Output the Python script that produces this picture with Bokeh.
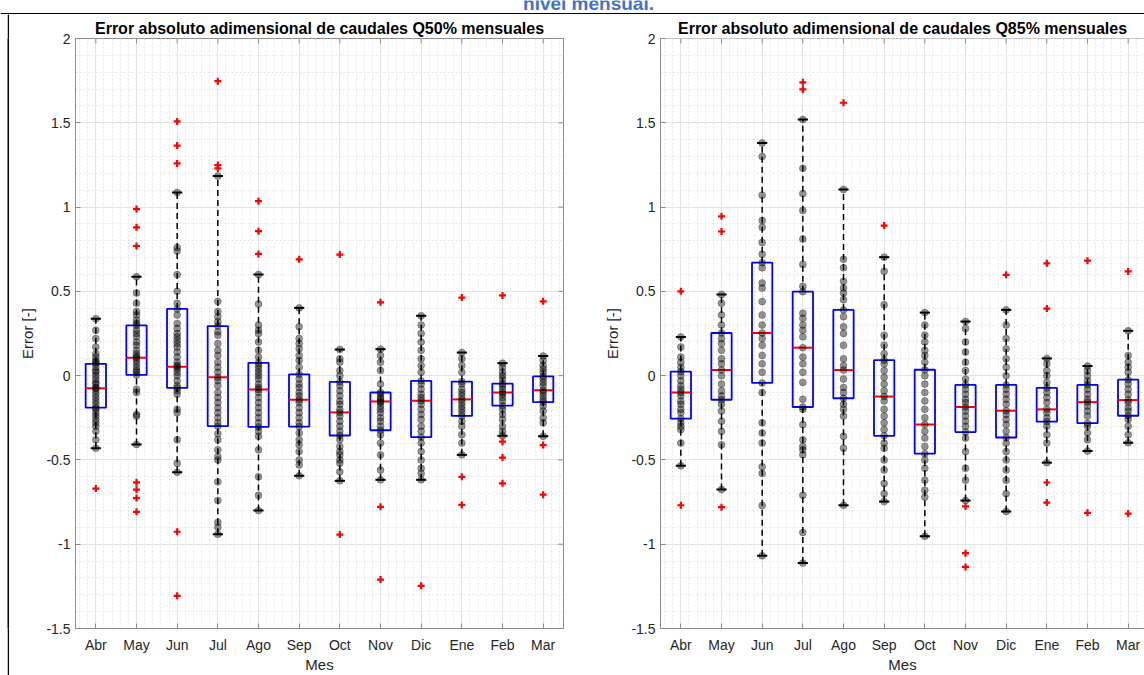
import numpy as np
from bokeh.plotting import figure
from bokeh.models import ColumnDataSource, FixedTicker, Range1d, Label, Span
from bokeh.transform import dodge
from bokeh.layouts import column, row
from bokeh.embed import file_html
from bokeh.resources import INLINE

months = ["Abr", "May", "Jun", "Jul", "Ago", "Sep", "Oct", "Nov", "Dic", "Ene", "Feb", "Mar"]

# ---------------- Q50 ----------------
q50_lo  = [-0.43, -0.408, -0.573, -0.941, -0.80, -0.594, -0.624, -0.618, -0.618, -0.47, -0.357, -0.359]
q50_q1  = [-0.19, 0.004, -0.073, -0.30, -0.304, -0.302, -0.355, -0.324, -0.365, -0.239, -0.178, -0.157]
q50_med = [-0.075, 0.106, 0.053, -0.01, -0.082, -0.143, -0.218, -0.153, -0.149, -0.141, -0.10, -0.086]
q50_q3  = [0.07, 0.298, 0.396, 0.294, 0.076, 0.008, -0.037, -0.10, -0.031, -0.035, -0.047, -0.004]
q50_hi  = [0.337, 0.586, 1.086, 1.184, 0.60, 0.402, 0.155, 0.157, 0.355, 0.137, 0.074, 0.116]
q50_out = [
    [-0.67],
    [0.988, 0.88, 0.769, -0.633, -0.676, -0.726, -0.808],
    [1.508, 1.365, 1.259, -0.926, -1.306],
    [1.747, 1.249, 1.229],
    [1.035, 0.857, 0.722],
    [0.69],
    [0.718, -0.943],
    [0.435, -0.778, -1.21],
    [-1.247],
    [0.463, -0.60, -0.767],
    [0.476, -0.392, -0.486, -0.639],
    [0.441, -0.412, -0.706],
]
q50_pts = [
    [0.337, 0.27, 0.22, 0.17, 0.13, 0.11, 0.09, 0.08, 0.07, 0.05, 0.03, 0.02, 0.0, -0.02, -0.04, -0.05,
     -0.07, -0.075, -0.09, -0.11, -0.13, -0.15, -0.17, -0.19, -0.2, -0.22, -0.24, -0.26, -0.28, -0.3,
     -0.33, -0.38, -0.43],
    [0.586, 0.49, 0.43, 0.38, 0.36, 0.33, 0.31, 0.298, 0.27, 0.25, 0.23, 0.2, 0.18, 0.15, 0.13, 0.115,
     0.106, 0.09, 0.07, 0.05, 0.03, 0.02, 0.004, -0.08, -0.1, -0.23, -0.24, -0.408],
    [1.086, 0.76, 0.74, 0.6, 0.5, 0.43, 0.396, 0.36, 0.31, 0.28, 0.25, 0.23, 0.21, 0.19, 0.17, 0.14,
     0.11, 0.08, 0.06, 0.053, 0.04, 0.02, 0.0, -0.03, -0.06, -0.073, -0.09, -0.11, -0.2, -0.22, -0.38,
     -0.52, -0.573],
    [1.184, 0.44, 0.38, 0.35, 0.32, 0.294, 0.26, 0.24, 0.19, 0.15, 0.12, 0.08, 0.05, 0.02, -0.01, -0.03,
     -0.06, -0.1, -0.13, -0.16, -0.19, -0.22, -0.25, -0.28, -0.3, -0.345, -0.38, -0.44, -0.48, -0.5,
     -0.63, -0.74, -0.87, -0.9, -0.941],
    [0.6, 0.425, 0.3, 0.27, 0.25, 0.2, 0.15, 0.11, 0.076, 0.06, 0.04, 0.02, 0.0, -0.02, -0.05, -0.07,
     -0.082, -0.1, -0.13, -0.16, -0.19, -0.22, -0.25, -0.28, -0.304, -0.33, -0.36, -0.44, -0.6, -0.71,
     -0.8],
    [0.402, 0.29, 0.22, 0.19, 0.16, 0.12, 0.09, 0.05, 0.008, -0.02, -0.05, -0.07, -0.1, -0.12, -0.143,
     -0.16, -0.19, -0.22, -0.25, -0.28, -0.302, -0.34, -0.38, -0.41, -0.45, -0.5, -0.53, -0.594],
    [0.155, 0.1, 0.08, 0.03, 0.0, -0.037, -0.06, -0.09, -0.12, -0.15, -0.17, -0.2, -0.218, -0.24, -0.27,
     -0.3, -0.33, -0.355, -0.38, -0.42, -0.45, -0.47, -0.5, -0.52, -0.57, -0.624],
    [0.157, 0.12, 0.08, 0.03, -0.05, -0.1, -0.11, -0.13, -0.14, -0.153, -0.16, -0.18, -0.2, -0.22, -0.25,
     -0.27, -0.3, -0.324, -0.35, -0.4, -0.47, -0.56, -0.618],
    [0.355, 0.3, 0.25, 0.2, 0.15, 0.1, 0.06, 0.02, -0.031, -0.05, -0.08, -0.11, -0.13, -0.149, -0.17,
     -0.2, -0.23, -0.26, -0.3, -0.33, -0.365, -0.4, -0.45, -0.5, -0.55, -0.58, -0.618],
    [0.137, 0.1, 0.06, 0.02, -0.035, -0.05, -0.08, -0.1, -0.12, -0.141, -0.16, -0.18, -0.2, -0.22,
     -0.239, -0.27, -0.3, -0.35, -0.4, -0.47],
    [0.074, 0.05, 0.02, 0.0, -0.02, -0.047, -0.06, -0.08, -0.1, -0.11, -0.13, -0.15, -0.178, -0.2,
     -0.23, -0.26, -0.3, -0.33, -0.357],
    [0.116, 0.09, 0.06, 0.04, 0.02, -0.004, -0.02, -0.04, -0.06, -0.086, -0.1, -0.12, -0.14, -0.157,
     -0.18, -0.21, -0.25, -0.28, -0.359],
]

# ---------------- Q85 ----------------
q85_lo  = [-0.535, -0.676, -1.069, -1.112, -0.769, -0.747, -0.953, -0.741, -0.806, -0.516, -0.447, -0.398]
q85_q1  = [-0.255, -0.143, -0.043, -0.186, -0.134, -0.357, -0.463, -0.335, -0.367, -0.273, -0.282, -0.238]
q85_med = [-0.10, 0.033, 0.253, 0.166, 0.033, -0.124, -0.29, -0.186, -0.208, -0.20, -0.157, -0.145]
q85_q3  = [0.024, 0.253, 0.67, 0.498, 0.39, 0.092, 0.035, -0.055, -0.055, -0.073, -0.055, -0.024]
q85_hi  = [0.229, 0.482, 1.38, 1.519, 1.104, 0.703, 0.374, 0.321, 0.39, 0.102, 0.057, 0.266]
q85_out = [
    [0.50, -0.769],
    [0.945, 0.855, -0.78],
    [],
    [1.74, 1.698],
    [1.619],
    [0.89],
    [],
    [-0.776, -1.053, -1.135],
    [0.598],
    [0.666, 0.398, -0.634, -0.753],
    [0.682, -0.814],
    [0.618, -0.818],
]
q85_pts = [
    [0.229, 0.17, 0.11, 0.08, 0.05, 0.024, 0.0, -0.03, -0.06, -0.08, -0.1, -0.12, -0.15, -0.17, -0.2,
     -0.22, -0.255, -0.28, -0.3, -0.32, -0.4, -0.535],
    [0.482, 0.43, 0.36, 0.3, 0.253, 0.22, 0.19, 0.15, 0.1, 0.07, 0.033, 0.0, -0.05, -0.09, -0.12,
     -0.143, -0.17, -0.21, -0.27, -0.33, -0.41, -0.676],
    [1.38, 1.3, 1.07, 0.92, 0.88, 0.79, 0.72, 0.67, 0.64, 0.55, 0.52, 0.44, 0.36, 0.3, 0.253, 0.22,
     0.18, 0.12, 0.07, 0.02, -0.043, -0.1, -0.28, -0.34, -0.4, -0.54, -0.58, -0.77, -1.069],
    [1.519, 1.23, 1.08, 0.98, 0.81, 0.66, 0.53, 0.498, 0.37, 0.34, 0.3, 0.27, 0.23, 0.166, 0.11, 0.07,
     0.02, -0.04, -0.14, -0.186, -0.2, -0.29, -0.38, -0.42, -0.44, -0.47, -0.71, -0.93, -1.112],
    [1.104, 0.69, 0.64, 0.56, 0.52, 0.49, 0.45, 0.39, 0.35, 0.29, 0.25, 0.18, 0.1, 0.06, 0.033, -0.02,
     -0.07, -0.1, -0.134, -0.17, -0.2, -0.24, -0.36, -0.43, -0.769],
    [0.703, 0.62, 0.42, 0.24, 0.18, 0.13, 0.092, 0.07, 0.03, -0.01, -0.05, -0.09, -0.124, -0.15, -0.2,
     -0.24, -0.28, -0.32, -0.357, -0.4, -0.43, -0.5, -0.56, -0.64, -0.7, -0.747],
    [0.374, 0.3, 0.24, 0.2, 0.15, 0.12, 0.08, 0.035, 0.0, -0.05, -0.1, -0.15, -0.2, -0.25, -0.29, -0.33,
     -0.37, -0.42, -0.463, -0.5, -0.55, -0.62, -0.68, -0.72, -0.953],
    [0.321, 0.28, 0.2, 0.14, 0.08, 0.03, -0.02, -0.055, -0.08, -0.11, -0.14, -0.16, -0.186, -0.21,
     -0.24, -0.27, -0.3, -0.335, -0.37, -0.45, -0.55, -0.62, -0.741],
    [0.39, 0.3, 0.22, 0.16, 0.1, 0.05, 0.0, -0.055, -0.08, -0.11, -0.14, -0.17, -0.208, -0.23, -0.26,
     -0.29, -0.33, -0.367, -0.4, -0.45, -0.5, -0.56, -0.62, -0.7, -0.806],
    [0.102, 0.07, 0.03, 0.0, -0.04, -0.073, -0.1, -0.13, -0.16, -0.2, -0.22, -0.25, -0.273, -0.3, -0.35,
     -0.4, -0.516],
    [0.057, 0.03, 0.0, -0.03, -0.055, -0.08, -0.11, -0.14, -0.157, -0.18, -0.21, -0.24, -0.282, -0.3,
     -0.34, -0.38, -0.447],
    [0.266, 0.12, 0.08, 0.05, 0.02, -0.024, -0.05, -0.08, -0.11, -0.145, -0.16, -0.19, -0.21, -0.238,
     -0.26, -0.3, -0.35, -0.398],
]

title_q50 = "Error absoluto adimensional de caudales Q50% mensuales"
title_q85 = "Error absoluto adimensional de caudales Q85% mensuales"
doc_heading = "nivel mensual."

FONT = "Liberation Sans"
AXC = "#8c8c8c"
TXT = "#262626"
PX_PER_UNIT = 488 / 12.0


def make_panel(title, lo, q1, med, q3, hi, outs, pts, width, min_left, min_right, frame_w, full_box):
    x_end = 0.5 + frame_w / PX_PER_UNIT
    p = figure(width=width, height=661, x_range=Range1d(0.5, x_end), y_range=Range1d(-1.5, 2),
               min_border_left=min_left, min_border_right=min_right, min_border_top=24,
               min_border_bottom=42, toolbar_location=None, output_backend="svg",
               background_fill_color="white", border_fill_color="white")
    p.title.text = title
    p.title.text_font = FONT
    p.title.text_font_size = "16px"
    p.title.text_font_style = "bold"
    p.title.text_color = "#000000"
    p.title.align = "center"
    p.title.standoff = 4

    xs = list(range(1, len(months) + 1))
    minor_x = [v for v in np.round(np.arange(0.6, 12.5, 0.2), 2) if abs(v - round(v)) > 1e-6]
    minor_y = [v for v in np.round(np.arange(-1.5, 2.0001, 0.1), 2) if abs(v * 2 - round(v * 2)) > 1e-6]
    p.xaxis.ticker = FixedTicker(ticks=xs, minor_ticks=minor_x)
    p.yaxis.ticker = FixedTicker(ticks=[-1.5, -1, -0.5, 0, 0.5, 1, 1.5, 2], minor_ticks=minor_y)
    p.xaxis.major_label_overrides = {x: m for x, m in zip(xs, months)}
    p.yaxis.major_label_overrides = {-1.5: "-1.5", -1: "-1", -0.5: "-0.5", 0: "0", 0.5: "0.5",
                                     1: "1", 1.5: "1.5", 2: "2"}
    for ax in (p.xaxis, p.yaxis):
        ax.axis_line_color = AXC
        ax.major_tick_line_color = AXC
        ax.major_tick_in = 5
        ax.major_tick_out = 0
        ax.minor_tick_in = 0
        ax.minor_tick_out = 0
        ax.major_label_text_font = FONT
        ax.major_label_text_font_size = "14px"
        ax.major_label_text_color = TXT
        ax.axis_label_text_font = FONT
        ax.axis_label_text_font_size = "15px"
        ax.axis_label_text_font_style = "normal"
        ax.axis_label_text_color = TXT
    p.xaxis.axis_label = "Mes"
    p.xaxis.major_label_standoff = 8
    p.xaxis.axis_label_standoff = 0
    p.yaxis.axis_label = "Error [-]"
    p.yaxis.major_label_standoff = 5
    p.yaxis.axis_label_standoff = 7

    for g in (p.xgrid, p.ygrid):
        g.grid_line_color = "#e3e3e3"
        g.grid_line_width = 1
        g.minor_grid_line_color = "#e6e6e6"
        g.minor_grid_line_dash = "2 2"
        g.minor_grid_line_width = 1

    if full_box:
        p.outline_line_color = AXC
        p.outline_line_width = 1
    else:
        p.outline_line_color = None
        p.add_layout(Span(location=2, dimension="width", line_color=AXC, line_width=1))

    src = ColumnDataSource(dict(x=xs, lo=lo, q1=q1, med=med, q3=q3, hi=hi))

    # whiskers
    p.segment(x0="x", y0="q3", x1="x", y1="hi", source=src, line_color="black",
              line_width=1.5, line_dash="6 4")
    p.segment(x0="x", y0="lo", x1="x", y1="q1", source=src, line_color="black",
              line_width=1.5, line_dash="6 4")
    # caps
    p.segment(x0=dodge("x", -0.125), y0="hi", x1=dodge("x", 0.125), y1="hi", source=src,
              line_color="black", line_width=2)
    p.segment(x0=dodge("x", -0.125), y0="lo", x1=dodge("x", 0.125), y1="lo", source=src,
              line_color="black", line_width=2)
    # boxes
    p.vbar(x="x", width=0.5, bottom="q1", top="q3", source=src, fill_color=None,
           line_color="#0000ff", line_width=1.8)
    # medians
    p.segment(x0=dodge("x", -0.25), y0="med", x1=dodge("x", 0.25), y1="med", source=src,
              line_color="#ff0000", line_width=2)

    # all samples
    px, py = [], []
    for x, vals in zip(xs, pts):
        px += [x] * len(vals)
        py += vals
    p.scatter(x=px, y=py, size=7, marker="circle", fill_color="black", fill_alpha=0.42,
              line_color="black", line_alpha=0.25)

    # outliers
    ox, oy = [], []
    for x, vals in zip(xs, outs):
        ox += [x] * len(vals)
        oy += vals
    p.scatter(x=ox, y=oy, marker="cross", size=7, line_color="#ff0000", line_width=2.2)

    # inner ticks on top / right edges (MATLAB box)
    tick_len = 5 / 170.0
    p.segment(x0=xs, y0=[2] * len(xs), x1=xs, y1=[2 - tick_len] * len(xs), line_color=AXC, line_width=1)
    if full_box:
        yt = [-1.5, -1, -0.5, 0, 0.5, 1, 1.5, 2]
        p.segment(x0=[x_end] * len(yt), y0=yt, x1=[x_end - 5 / PX_PER_UNIT] * len(yt), y1=yt,
                  line_color=AXC, line_width=1)
    return p


p1 = make_panel(title_q50, q50_lo, q50_q1, q50_med, q50_q3, q50_hi, q50_out, q50_pts,
                width=591, min_left=66, min_right=37, frame_w=488, full_box=True)
p2 = make_panel(title_q85, q85_lo, q85_q1, q85_med, q85_q3, q85_hi, q85_out, q85_pts,
                width=544, min_left=60, min_right=0, frame_w=484, full_box=False)

# top strip: cut-off heading and page border line
top = figure(width=1144, height=14, x_range=Range1d(0, 1144), y_range=Range1d(0, 14),
             min_border=0, x_axis_type=None, y_axis_type=None, toolbar_location=None,
             output_backend="svg", outline_line_color=None)
top.grid.visible = False
top.add_layout(Label(x=588, y=11.5, text=doc_heading, text_align="center", text_baseline="alphabetic",
                     text_font=FONT, text_font_size="19px", text_font_style="bold",
                     text_color="#4472C4"))
top.add_layout(Span(location=0.8, dimension="width", line_color="black", line_width=1.5))


def blank_strip(w, color):
    s = figure(width=w, height=661, x_range=Range1d(0, 1), y_range=Range1d(0, 1),
               min_border=0, x_axis_type=None, y_axis_type=None, toolbar_location=None,
               output_backend="svg", outline_line_color=None,
               background_fill_color=color, border_fill_color=color)
    s.grid.visible = False
    return s


gap = blank_strip(7, "white")
vline = blank_strip(2, "black")

layout = column(top, row(gap, vline, p1, p2))

with open("out.html", "w") as f:
    f.write(file_html(layout, INLINE))
